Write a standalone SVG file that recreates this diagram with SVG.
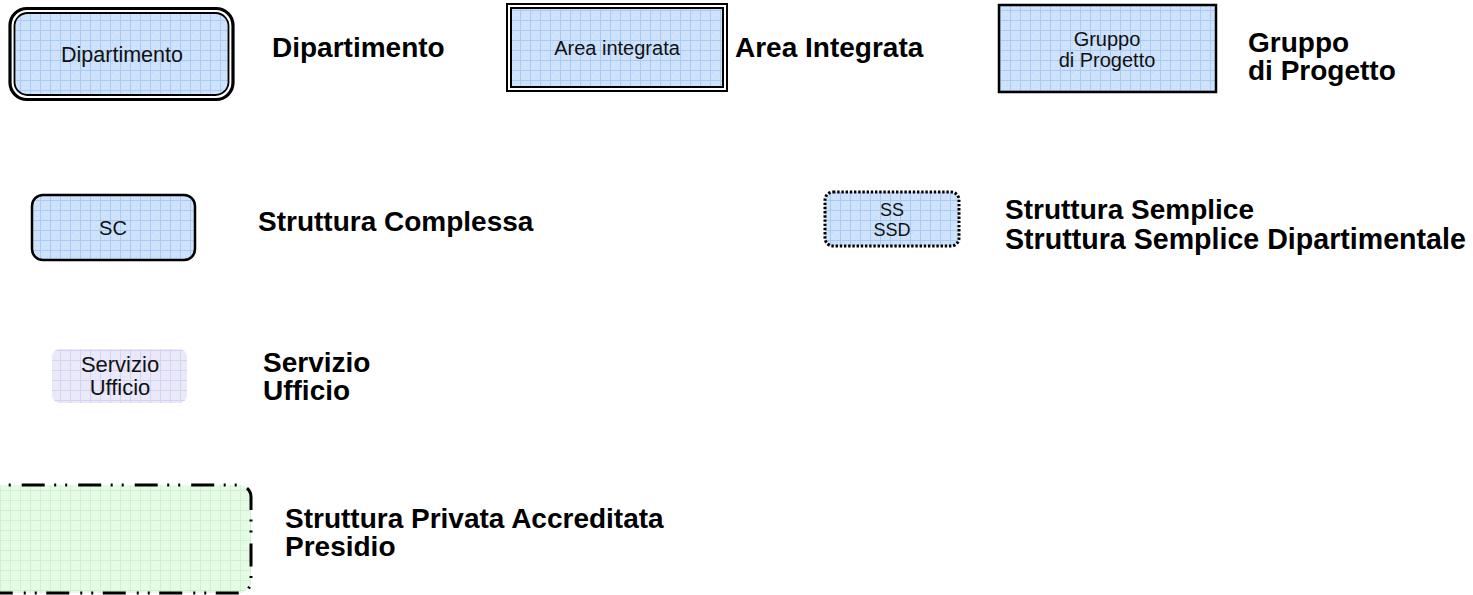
<svg xmlns="http://www.w3.org/2000/svg" width="1473" height="595" viewBox="0 0 1473 595">
  <style>
    .lbl { font-family: "Liberation Sans", Arial, sans-serif; font-weight: bold; font-size: 28px; fill: #000; }
    .in { font-family: "Liberation Sans", Arial, sans-serif; font-size: 20px; fill: #111; text-anchor: middle; }
    .blue { fill: url(#gridBlue); }
  </style>
  <defs>
    <!-- light blue squared texture -->
    <pattern id="gridBlue" width="10" height="10" patternUnits="userSpaceOnUse">
      <rect width="10" height="10" fill="#cfe2fc"/>
      <rect x="2" y="2" width="1" height="1" fill="#bcd6f8"/>
      <rect x="6" y="6" width="1" height="1" fill="#bcd6f8"/>
      <path d="M0 0.5H10M0.5 0V10" stroke="#a9cbf3" stroke-width="1"/>
    </pattern>
    <!-- lavender squared texture -->
    <pattern id="gridLilac" width="10" height="10" patternUnits="userSpaceOnUse">
      <rect width="10" height="10" fill="#e9e9fa"/>
      <path d="M0 0.5H10M0.5 0V10" stroke="#d3d3f2" stroke-width="1"/>
    </pattern>
    <!-- pale green squared texture -->
    <pattern id="gridGreen" width="10" height="10" patternUnits="userSpaceOnUse">
      <rect width="10" height="10" fill="#e6fbe6"/>
      <path d="M0 0.5H10M0.5 0V10" stroke="#cdf3cd" stroke-width="1"/>
    </pattern>
  </defs>

  <rect width="1473" height="595" fill="#fff"/>

  <!-- Dipartimento: rounded box with double border -->
  <g id="dipartimento">
    <rect x="10" y="8.5" width="223" height="91" rx="17" fill="#fff" stroke="#000" stroke-width="3.2"/>
    <rect x="14.5" y="13" width="214" height="82" rx="13" class="blue" stroke="#000" stroke-width="1.8"/>
    <text class="in" x="122" y="62" style="font-size:21.5px">Dipartimento</text>
  </g>
  <g id="dipartimento-label"><text class="lbl" x="272" y="57">Dipartimento</text></g>

  <!-- Area integrata: square box with double border -->
  <g id="area-integrata">
    <rect x="507" y="4" width="220" height="87" fill="#fff" stroke="#000" stroke-width="2"/>
    <rect x="511" y="8" width="212" height="79" class="blue" stroke="#000" stroke-width="2"/>
    <text class="in" x="617" y="55">Area integrata</text>
  </g>
  <g id="area-integrata-label"><text class="lbl" x="735" y="57">Area Integrata</text></g>

  <!-- Gruppo di Progetto -->
  <g id="gruppo">
    <rect x="999" y="5" width="217" height="87" class="blue" stroke="#000" stroke-width="2.5"/>
    <text class="in" x="1107" y="46">Gruppo</text>
    <text class="in" x="1107" y="67">di Progetto</text>
  </g>
  <g id="gruppo-label">
    <text class="lbl" x="1248" y="52">Gruppo</text>
    <text class="lbl" x="1248" y="80">di Progetto</text>
  </g>

  <!-- Struttura Complessa -->
  <g id="sc">
    <rect x="32" y="195" width="163" height="65" rx="11" class="blue" stroke="#000" stroke-width="2.5"/>
    <text class="in" x="113" y="235">SC</text>
  </g>
  <g id="sc-label"><text class="lbl" x="258" y="231">Struttura Complessa</text></g>

  <!-- Struttura Semplice / SSD: dotted border -->
  <g id="ss">
    <rect x="825" y="192" width="134" height="54" rx="8" class="blue" stroke="#000" stroke-width="3" stroke-dasharray="2.4 1.8"/>
    <text class="in" x="892" y="216" style="font-size:18px">SS</text>
    <text class="in" x="892" y="236" style="font-size:18px">SSD</text>
  </g>
  <g id="ss-label">
    <text class="lbl" x="1005" y="219">Struttura Semplice</text>
    <text class="lbl" x="1005" y="248.5" style="font-size:28.6px">Struttura Semplice Dipartimentale</text>
  </g>

  <!-- Servizio / Ufficio: borderless -->
  <g id="servizio">
    <rect x="52" y="349" width="135" height="54" rx="8" fill="url(#gridLilac)"/>
    <text class="in" x="120" y="372" style="font-size:22px">Servizio</text>
    <text class="in" x="120" y="395" style="font-size:22px">Ufficio</text>
  </g>
  <g id="servizio-label">
    <text class="lbl" x="263" y="372">Servizio</text>
    <text class="lbl" x="263" y="400">Ufficio</text>
  </g>

  <!-- Struttura Privata Accreditata / Presidio: dash-dot-dot border -->
  <g id="privata">
    <rect x="-20" y="485" width="271" height="108" rx="12" fill="url(#gridGreen)" stroke="#000" stroke-width="3" stroke-dasharray="23 9.5 2 9 2 11" stroke-dashoffset="26.8"/>
  </g>
  <g id="privata-label">
    <text class="lbl" x="285" y="528">Struttura Privata Accreditata</text>
    <text class="lbl" x="285" y="556">Presidio</text>
  </g>

  <g id="connectors"/>
</svg>
